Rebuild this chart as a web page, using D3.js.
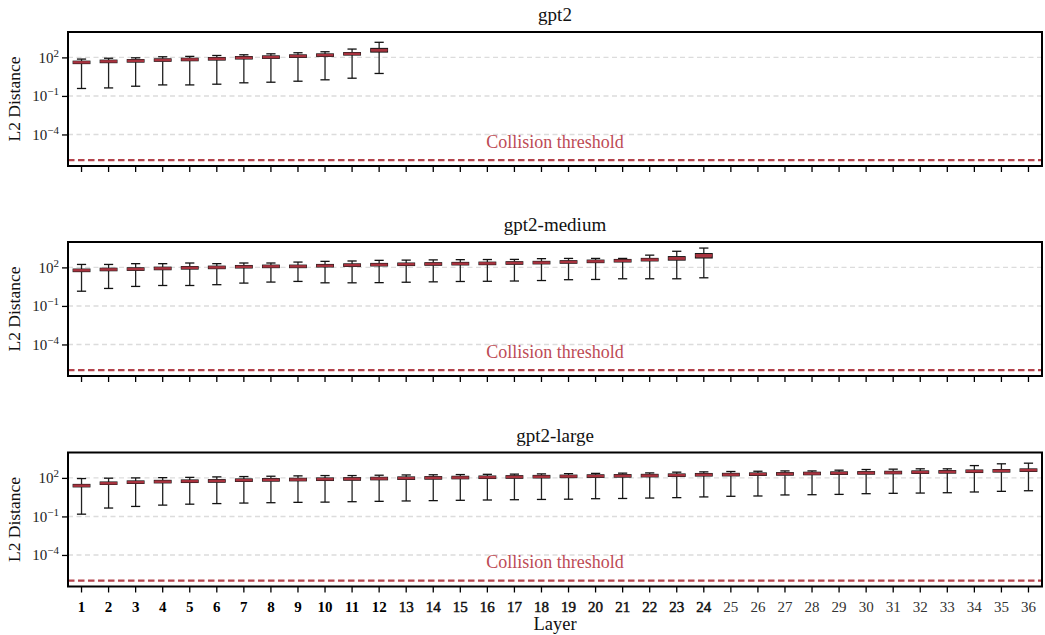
<!DOCTYPE html>
<html><head><meta charset="utf-8">
<script src="https://cdn.jsdelivr.net/npm/d3@7"></script>
<style>
body{margin:0;background:#fff}
text{font-family:"Liberation Serif","Times New Roman",serif}
</style>
</head><body>
<svg id="c" width="1045" height="635"></svg>
<script>
// ---------------- data ----------------
const layers = [1,2,3,4,5,6,7,8,9,10,11,12,13,14,15,16,17,18,19,20,21,22,23,24,25,26,27,28,29,30,31,32,33,34,35,36];
const modelNames = ["gpt2","gpt2-medium","gpt2-large"];
const yTickValues = [1e-4, 1e-1, 1e2];
const yTickExponents = ["\u22124", "\u22121", "2"];
const threshold = 1e-6;
const thresholdLabel = "Collision threshold";

// gpt2 (12 layers)
const gpt2Median = [41, 49, 54, 62, 69, 78, 93, 105, 126, 150, 190, 370];
const gpt2Q1     = [33, 39, 43, 50, 55, 62, 75, 84, 100, 120, 152, 260];
const gpt2Q3     = [51, 61, 67, 77, 86, 97, 116, 131, 157, 187, 237, 500];
const gpt2Lo     = [0.38, 0.42, 0.57, 0.72, 0.72, 0.82, 1.05, 1.17, 1.4, 1.8, 2.4, 5.6];
const gpt2Hi     = [74, 86, 93, 112, 120, 141, 160, 190, 230, 275, 445, 1500];

// gpt2-medium (24 layers)
const medMedian = [59, 69, 74, 83, 93, 100, 112, 120, 120, 135, 150, 162, 175, 185, 195, 205, 220, 235, 265, 295, 330, 400, 500, 870];
const medQ1     = [47, 55, 59, 66, 74, 80, 90, 96, 96, 108, 120, 130, 140, 148, 156, 164, 176, 188, 212, 236, 264, 320, 370, 540];
const medQ3     = [74, 86, 93, 104, 116, 125, 140, 150, 150, 169, 188, 203, 219, 231, 244, 256, 275, 294, 331, 369, 413, 500, 690, 1200];
const medLo     = [1.4, 2.3, 3.3, 3.9, 3.9, 4.5, 6, 7.2, 8.1, 6.3, 6.3, 6.5, 7, 7.5, 8, 8.3, 8.7, 9.5, 11, 11.5, 13, 13, 13, 15.5];
const medHi     = [170, 170, 195, 195, 220, 195, 220, 220, 260, 295, 316, 355, 370, 385, 400, 410, 420, 480, 500, 500, 500, 900, 1800, 3200];

// gpt2-large (36 layers)
const lrgMedian = [25, 38, 46, 51, 55, 58, 66, 70, 74, 79, 83, 89, 95, 100, 106, 112, 118, 124, 131, 138, 144, 150, 162, 175, 180, 195, 205, 220, 235, 245, 260, 280, 295, 330, 355, 400];
const lrgQ1     = [20, 31, 37, 41, 44, 46, 53, 56, 59, 63, 66, 71, 76, 80, 85, 90, 94, 99, 105, 110, 115, 120, 130, 140, 144, 156, 164, 176, 188, 196, 208, 224, 236, 264, 284, 320];
const lrgQ3     = [31, 48, 58, 64, 69, 73, 83, 88, 93, 99, 104, 111, 119, 125, 133, 140, 148, 155, 164, 173, 180, 188, 203, 219, 225, 244, 256, 275, 294, 306, 325, 350, 369, 413, 444, 500];
const lrgLo     = [0.15, 0.45, 0.6, 0.76, 0.9, 1.0, 1.1, 1.17, 1.25, 1.3, 1.4, 1.5, 1.6, 1.7, 1.8, 1.9, 2.0, 2.1, 2.2, 2.4, 2.5, 2.7, 2.9, 3.3, 3.7, 3.9, 4.7, 4.9, 5.2, 5.9, 6.3, 6.6, 7, 8, 9, 10];
const lrgHi     = [89, 95, 100, 105, 110, 120, 127, 135, 144, 152, 152, 162, 170, 175, 182, 190, 197, 205, 215, 225, 235, 245, 280, 295, 315, 330, 350, 350, 400, 450, 480, 510, 510, 910, 1250, 1400];

// ---------------- build ----------------
function rows(med, q1, q3, lo, hi) {
  return med.map((m, i) => ({layer: layers[i], med: m, q1: q1[i], q3: q3[i], lo: lo[i], hi: hi[i]}));
}
const panels = [
  {name: modelNames[0], data: rows(gpt2Median, gpt2Q1, gpt2Q3, gpt2Lo, gpt2Hi)},
  {name: modelNames[1], data: rows(medMedian, medQ1, medQ3, medLo, medHi)},
  {name: modelNames[2], data: rows(lrgMedian, lrgQ1, lrgQ3, lrgLo, lrgHi)}
];

const svg = d3.select("#c");
const L = 68, R = 1042, H = 134;
const tops = [32, 242, 452.5];
const RED = "#a8323e";
const THR = "#b5434c";

const x = d3.scaleBand().domain(layers).range([L, R]).padding(0);
const bw = x.bandwidth();
const cx = d => x(d) + bw / 2;
const boxW = bw * 0.62, capW = bw * 0.34;

panels.forEach((p, pi) => {
  const top = tops[pi], bot = top + H;
  const y = d3.scaleLog().domain([3.5e-7, 9.5e3]).range([bot, top]);
  const g = svg.append("g");

  // grid
  g.selectAll(".grid").data(yTickValues).join("line")
    .attr("x1", L).attr("x2", R)
    .attr("y1", d => y(d)).attr("y2", d => y(d))
    .attr("stroke", "#dcdcdc").attr("stroke-width", 1.4)
    .attr("stroke-dasharray", "5,3.5");

  // threshold
  g.append("line")
    .attr("x1", L).attr("x2", R)
    .attr("y1", y(threshold)).attr("y2", y(threshold))
    .attr("stroke", THR).attr("stroke-width", 2.4)
    .attr("stroke-dasharray", "6.5,3.5");
  g.append("text")
    .attr("x", (L + R) / 2).attr("y", y(threshold) - 12.5)
    .attr("text-anchor", "middle")
    .attr("fill", "#bd4b55").attr("font-size", 18)
    .text(thresholdLabel);

  // boxes
  const b = g.selectAll(".box").data(p.data).join("g");
  b.append("line")
    .attr("x1", d => cx(d.layer)).attr("x2", d => cx(d.layer))
    .attr("y1", d => y(d.lo)).attr("y2", d => y(d.q1))
    .attr("stroke", "#222").attr("stroke-width", 1.3);
  b.append("line")
    .attr("x1", d => cx(d.layer)).attr("x2", d => cx(d.layer))
    .attr("y1", d => y(d.q3)).attr("y2", d => y(d.hi))
    .attr("stroke", "#222").attr("stroke-width", 1.3);
  ["lo", "hi"].forEach(k => {
    b.append("line")
      .attr("x1", d => cx(d.layer) - capW / 2).attr("x2", d => cx(d.layer) + capW / 2)
      .attr("y1", d => y(d[k])).attr("y2", d => y(d[k]))
      .attr("stroke", "#111").attr("stroke-width", 1.3);
  });
  b.append("rect")
    .attr("x", d => cx(d.layer) - boxW / 2).attr("width", boxW)
    .attr("y", d => y(d.q3)).attr("height", d => Math.max(0.5, y(d.q1) - y(d.q3)))
    .attr("fill", "#b23a45").attr("stroke", "#1a1a1a").attr("stroke-width", 1.1);
  b.append("line")
    .attr("x1", d => cx(d.layer) - boxW / 2).attr("x2", d => cx(d.layer) + boxW / 2)
    .attr("y1", d => y(d.med)).attr("y2", d => y(d.med))
    .attr("stroke", RED).attr("stroke-width", 2.4);

  // y axis ticks
  const ya = g.append("g").attr("transform", `translate(${L},0)`)
    .call(d3.axisLeft(y).tickValues(yTickValues).tickSize(6).tickPadding(3).tickFormat(() => ""));
  ya.select(".domain").remove();
  ya.selectAll(".tick line").attr("stroke", "#000").attr("stroke-width", 1.3);
  ya.selectAll(".tick text").each(function(d, i) {
    const t = d3.select(this).attr("font-size", 15).attr("fill", "#222")
      .attr("font-family", "Liberation Serif, serif");
    t.text(null);
    t.append("tspan").text("10");
    t.append("tspan").attr("font-size", 11).attr("dy", -6).text(yTickExponents[i]);
  });

  // x axis
  const xa = g.append("g").attr("transform", `translate(0,${bot})`)
    .call(d3.axisBottom(x).tickSize(6).tickPadding(9));
  xa.select(".domain").remove();
  xa.selectAll(".tick line").attr("stroke", "#000").attr("stroke-width", 1.3);
  if (pi < 2) {
    xa.selectAll(".tick text").remove();
  } else {
    xa.selectAll(".tick text")
      .attr("font-size", 15)
      .attr("font-family", "Liberation Serif, serif")
      .attr("fill", d => d <= 12 ? "#000" : (d <= 24 ? "#111" : "#333"))
      .attr("font-weight", d => d <= 12 ? "bold" : "normal")
      .attr("stroke", d => d > 12 && d <= 24 ? "#111" : "none")
      .attr("stroke-width", 0.5);
  }

  // frame
  g.append("rect").attr("x", L).attr("y", top).attr("width", R - L).attr("height", H)
    .attr("fill", "none").attr("stroke", "#000").attr("stroke-width", 2);

  // title
  g.append("text").attr("x", (L + R) / 2).attr("y", top - 11)
    .attr("text-anchor", "middle").attr("font-size", 19).attr("fill", "#111")
    .text(p.name);

  // y label
  g.append("text")
    .attr("transform", `translate(20,${top + H / 2}) rotate(-90)`)
    .attr("text-anchor", "middle").attr("font-size", 17.5).attr("fill", "#111")
    .text("L2 Distance");
});

svg.append("text").attr("x", (L + R) / 2).attr("y", 630)
  .attr("text-anchor", "middle").attr("font-size", 18.5).attr("fill", "#111")
  .text("Layer");
</script>
</body></html>
